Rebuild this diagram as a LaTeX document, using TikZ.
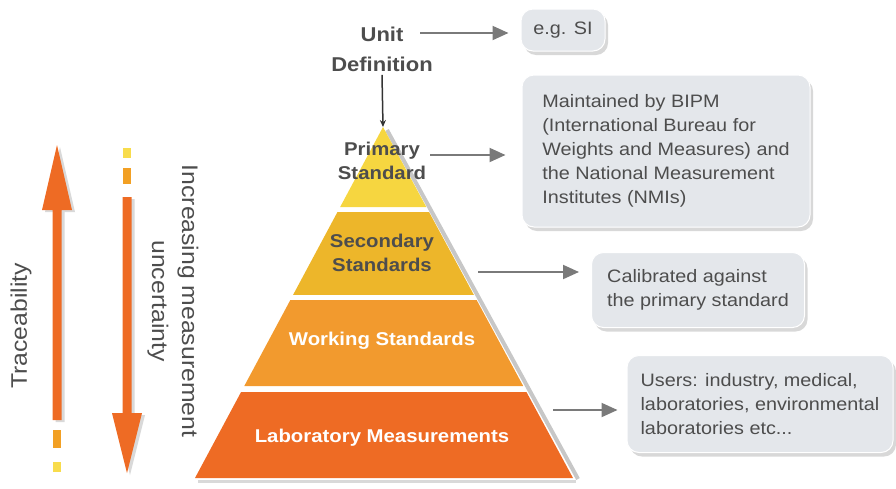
\documentclass[tikz,border=0pt]{standalone}
\usepackage{fontspec}
\setmainfont{Liberation Sans}[FakeStretch=1.1]
\usetikzlibrary{arrows.meta,calc,shadows}
\definecolor{boxfill}{HTML}{E4E7EB}
\definecolor{boxtext}{HTML}{4D4D4D}
\definecolor{arrowgray}{HTML}{7A7A7A}
\definecolor{primcol}{HTML}{F6D640}
\definecolor{seccol}{HTML}{EDB62A}
\definecolor{workcol}{HTML}{F29A2E}
\definecolor{labcol}{HTML}{EE6B24}
\definecolor{dashorange}{HTML}{F2A024}
\definecolor{dashyellow}{HTML}{F8DC4C}
\begin{document}
\begin{tikzpicture}[x=1pt,y=-1pt,
  infobox/.style={rounded corners=12pt, fill=boxfill, draw=white, line width=1pt,
    drop shadow={shadow xshift=3pt,shadow yshift=-4pt,opacity=0.22,fill=black!70},
    align=left, text=boxtext, font=\fontsize{18}{24}\selectfont, inner sep=0pt},
  conn/.style={draw=arrowgray, line width=2pt, -{Triangle[length=16pt,width=14pt]}},
  tierlabel/.style={font=\bfseries\fontsize{18.5}{23.5}\selectfont, align=center},
  sidetext/.style={font=\fontsize{22.5}{30}\selectfont, text=boxtext, align=center}]
\useasboundingbox (0,0) rectangle (896,488);

% pyramid geometry
\coordinate (A) at (383,127);
\coordinate (BL) at (195,478);
\coordinate (BR) at (573,478);

% shadows along right edge and bottom
\draw[black, opacity=0.22, line width=4pt] ($(A)+(4,3)$) -- ($(BR)+(5,1)$);
\draw[black, opacity=0.15, line width=3pt] ($(BL)+(3,3)$) -- ($(BR)+(3,3)$);

% bands
\fill[primcol] (A) -- ($(A)!0.2279!(BR)$) -- ($(A)!0.2279!(BL)$) -- cycle;
\fill[seccol] ($(A)!0.2422!(BL)$) -- ($(A)!0.2422!(BR)$) -- ($(A)!0.4786!(BR)$) -- ($(A)!0.4786!(BL)$) -- cycle;
\fill[workcol] ($(A)!0.4929!(BL)$) -- ($(A)!0.4929!(BR)$) -- ($(A)!0.7379!(BR)$) -- ($(A)!0.7379!(BL)$) -- cycle;
\fill[labcol] ($(A)!0.755!(BL)$) -- ($(A)!0.755!(BR)$) -- (BR) -- (BL) -- cycle;

% tier labels
\node[tierlabel, text=boxtext] (prim) at (382,161) {Primary\\Standard};
\node[tierlabel, text=boxtext] (sec) at (382,253) {Secondary\\Standards};
\node[tierlabel, text=white] (work) at (382,341) {Working Standards};
\node[tierlabel, text=white] (lab) at (382,438) {Laboratory Measurements};

% unit definition
\node[font=\bfseries\fontsize{20}{30}\selectfont, text=boxtext, align=center] (unit) at (382,49) {Unit\\Definition};
\draw[line width=1.5pt, draw=black!80, -{Stealth[length=7pt,width=6pt]}] (unit.south) -- (A);

% info boxes
\node[infobox, minimum width=84pt, minimum height=42pt, align=center] (si) at (563,30) {e.g. SI};
\node[infobox, minimum width=288pt, minimum height=152pt] (bipm) at (666,151)
  {Maintained by BIPM\\(International Bureau for\\Weights and Measures) and\\the National Measurement\\Institutes (NMIs)};
\node[infobox, minimum width=213pt, minimum height=75pt] (cal) at (698,290)
  {Calibrated against\\the primary standard};
\node[infobox, minimum width=266pt, minimum height=97pt] (users) at (760,404)
  {Users: industry, medical,\\laboratories, environmental\\laboratories etc...};

% connectors
\coordinate (u1) at (420,33);
\coordinate (p1) at (430,155);
\coordinate (s1) at (478,272);
\coordinate (l1) at (553,410);
\draw[conn, shorten >=12pt] (u1) -- (u1 -| si.west);
\draw[conn, shorten >=16pt] (p1) -- (p1 -| bipm.west);
\draw[conn, shorten >=12pt] (s1) -- (s1 -| cal.west);
\draw[conn, shorten >=9pt] (l1) -- (l1 -| users.west);

% left arrows
\fill[black, opacity=0.15, xshift=3pt, yshift=-2pt]
  (52.5,420) -- (52.5,210) -- (42,210) -- (57,145) -- (72,210) -- (61.5,210) -- (61.5,420) -- cycle;
\fill[labcol] (52.5,420) -- (52.5,210) -- (42,210) -- (57,145) -- (72,210) -- (61.5,210) -- (61.5,420) -- cycle;
\fill[dashorange] (53,430) rectangle (61,448);
\fill[dashyellow] (53,462) rectangle (61,472);

\fill[black, opacity=0.15, xshift=3pt, yshift=-2pt]
  (122.5,197) -- (122.5,413) -- (112,413) -- (127,473) -- (142,413) -- (131.5,413) -- (131.5,197) -- cycle;
\fill[labcol] (122.5,197) -- (122.5,413) -- (112,413) -- (127,473) -- (142,413) -- (131.5,413) -- (131.5,197) -- cycle;
\fill[dashyellow] (123,148) rectangle (131,158);
\fill[dashorange] (123,168) rectangle (131,184);

\node[sidetext, rotate=90] (trace) at (21,326) {Traceability};
\node[sidetext, rotate=-90] (unc) at (173,301) {Increasing measurement\\uncertainty};
\end{tikzpicture}
\end{document}
